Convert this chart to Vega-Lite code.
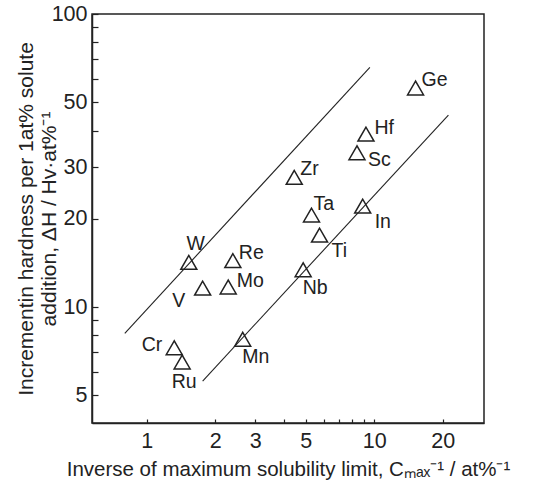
{
  "$schema": "https://vega.github.io/schema/vega-lite/v6.json",
  "width": 392,
  "height": 409,
  "autosize": "none",
  "padding": {"left": 92, "top": 14, "right": 63, "bottom": 63},
  "background": "white",
  "config": {
    "font": "Liberation Sans",
    "view": {"stroke": "#222", "strokeWidth": 1.5},
    "axis": {
      "grid": false,
      "domainColor": "#222",
      "domainWidth": 1.5,
      "tickColor": "#222",
      "tickWidth": 1.2,
      "labelColor": "#222",
      "labelFontSize": 21.5,
      "labelFlush": false,
      "labelOverlap": false,
      "titleColor": "#222",
      "titleFontWeight": "normal"
    },
    "text": {"font": "Liberation Sans", "fontSize": 19.5, "color": "#222", "baseline": "middle"}
  },
  "datasets": {
    "solutes": [
      {"element": "Ge", "inv_cmax": 15.2, "dH": 55.9},
      {"element": "Hf", "inv_cmax": 9.2, "dH": 38.9},
      {"element": "Sc", "inv_cmax": 8.4, "dH": 33.6},
      {"element": "Zr", "inv_cmax": 4.45, "dH": 27.7},
      {"element": "Ta", "inv_cmax": 5.3, "dH": 20.6},
      {"element": "In", "inv_cmax": 8.9, "dH": 22.1},
      {"element": "Ti", "inv_cmax": 5.75, "dH": 17.6},
      {"element": "Nb", "inv_cmax": 4.87, "dH": 13.4},
      {"element": "W", "inv_cmax": 1.53, "dH": 14.2},
      {"element": "Re", "inv_cmax": 2.39, "dH": 14.4},
      {"element": "V", "inv_cmax": 1.76, "dH": 11.6},
      {"element": "Mo", "inv_cmax": 2.28, "dH": 11.7},
      {"element": "Mn", "inv_cmax": 2.64, "dH": 7.76},
      {"element": "Cr", "inv_cmax": 1.32, "dH": 7.26},
      {"element": "Ru", "inv_cmax": 1.43, "dH": 6.49}
    ],
    "trend_lines": [
      {"band": "upper", "inv_cmax": 0.8, "dH": 8.13},
      {"band": "upper", "inv_cmax": 9.57, "dH": 65.8},
      {"band": "lower", "inv_cmax": 1.76, "dH": 5.59},
      {"band": "lower", "inv_cmax": 21.2, "dH": 45.2}
    ]
  },
  "encoding": {
    "x": {
      "field": "inv_cmax",
      "type": "quantitative",
      "scale": {"type": "log", "domain": [0.574, 30.4], "nice": false},
      "axis": {
        "title": "Inverse of maximum solubility limit, Cₘₐₓ⁻¹ / at%⁻¹",
        "titleFontSize": 20.5,
        "values": [1, 2, 3, 4, 5, 6, 7, 8, 9, 10, 20],
        "labelExpr": "indexof([1, 2, 3, 5, 10, 20], datum.value) >= 0 ? format(datum.value, 'd') : ''",
        "tickSize": -4,
        "labelPadding": 11,
        "titleY": 36,
        "titleBaseline": "top"
      }
    },
    "y": {
      "field": "dH",
      "type": "quantitative",
      "scale": {"type": "log", "domain": [4.02, 100], "nice": false},
      "axis": {
        "title": ["Incrementin hardness per 1at% solute", "addition, ΔH / Hv·at%⁻¹"],
        "titleFontSize": 21,
        "values": [5, 6, 7, 8, 9, 10, 20, 30, 40, 50, 60, 70, 80, 90, 100],
        "labelExpr": "indexof([5, 10, 20, 30, 50, 100], datum.value) >= 0 ? format(datum.value, 'd') : ''",
        "tickSize": -6,
        "labelPadding": 11,
        "labelBaseline": "middle",
        "titleX": -56,
        "titleY": 204.5,
        "titleAngle": -90,
        "titleAlign": "center",
        "titleBaseline": "bottom",
        "titleLineHeight": 23
      }
    }
  },
  "layer": [
    {
      "data": {"name": "trend_lines"},
      "mark": {"type": "line", "color": "#222", "strokeWidth": 1.1},
      "encoding": {"detail": {"field": "band"}}
    },
    {
      "data": {"name": "solutes"},
      "mark": {"type": "point", "shape": "triangle-up", "size": 256, "filled": false, "stroke": "#222", "strokeWidth": 1.5, "opacity": 1}
    },
    {
      "data": {"name": "solutes"},
      "transform": [{"filter": {"field": "element", "oneOf": ["Ge", "Re", "Zr"]}}],
      "mark": {"type": "text", "align": "left", "dx": 6, "dy": -8},
      "encoding": {"text": {"field": "element"}}
    },
    {
      "data": {"name": "solutes"},
      "transform": [{"filter": {"field": "element", "oneOf": ["Hf", "Mo"]}}],
      "mark": {"type": "text", "align": "left", "dx": 8.5, "dy": -6},
      "encoding": {"text": {"field": "element"}}
    },
    {
      "data": {"name": "solutes"},
      "transform": [{"filter": {"field": "element", "equal": "Ta"}}],
      "mark": {"type": "text", "align": "left", "dx": 2, "dy": -11},
      "encoding": {"text": {"field": "element"}}
    },
    {
      "data": {"name": "solutes"},
      "transform": [{"filter": {"field": "element", "equal": "Sc"}}],
      "mark": {"type": "text", "align": "left", "dx": 11, "dy": 7},
      "encoding": {"text": {"field": "element"}}
    },
    {
      "data": {"name": "solutes"},
      "transform": [{"filter": {"field": "element", "oneOf": ["In", "Ti"]}}],
      "mark": {"type": "text", "align": "left", "dx": 12, "dy": 16},
      "encoding": {"text": {"field": "element"}}
    },
    {
      "data": {"name": "solutes"},
      "transform": [{"filter": {"field": "element", "oneOf": ["Nb", "Mn"]}}],
      "mark": {"type": "text", "align": "left", "dx": -0.5, "dy": 18},
      "encoding": {"text": {"field": "element"}}
    },
    {
      "data": {"name": "solutes"},
      "transform": [{"filter": {"field": "element", "equal": "W"}}],
      "mark": {"type": "text", "align": "center", "dx": 7, "dy": -18},
      "encoding": {"text": {"field": "element"}}
    },
    {
      "data": {"name": "solutes"},
      "transform": [{"filter": {"field": "element", "equal": "V"}}],
      "mark": {"type": "text", "align": "center", "dx": -24, "dy": 13},
      "encoding": {"text": {"field": "element"}}
    },
    {
      "data": {"name": "solutes"},
      "transform": [{"filter": {"field": "element", "equal": "Cr"}}],
      "mark": {"type": "text", "align": "right", "dx": -12, "dy": -3},
      "encoding": {"text": {"field": "element"}}
    },
    {
      "data": {"name": "solutes"},
      "transform": [{"filter": {"field": "element", "equal": "Ru"}}],
      "mark": {"type": "text", "align": "center", "dx": 2, "dy": 20},
      "encoding": {"text": {"field": "element"}}
    }
  ]
}
